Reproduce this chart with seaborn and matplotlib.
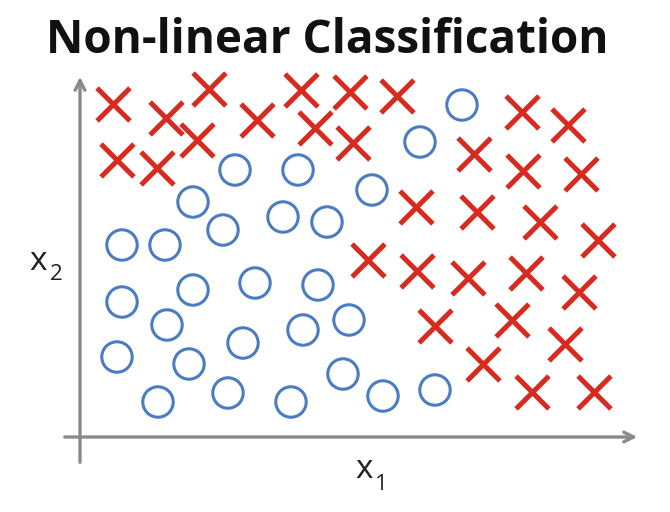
import matplotlib
matplotlib.use("Agg")
import matplotlib.pyplot as plt
import seaborn as sns

# positive class (red crosses), x1 / x2 values
cross_x1 = [0.66, 1.72, 2.58, 2.34, 3.54, 4.42, 4.70, 5.40, 6.34, 5.46, 0.74, 1.54,
            8.84, 9.76, 7.88, 8.86, 10.02, 6.72, 7.94, 9.20, 10.36, 5.76, 6.74, 7.76,
            8.92, 9.98, 7.10, 8.64, 9.70, 8.06, 9.04, 10.28]
cross_x2 = [6.66, 6.38, 6.96, 5.94, 6.34, 6.94, 6.18, 6.90, 6.82, 5.88, 5.54, 5.38,
            6.50, 6.24, 5.66, 5.32, 5.26, 4.60, 4.50, 4.30, 3.94, 3.54, 3.32, 3.18,
            3.28, 2.90, 2.22, 2.34, 1.86, 1.46, 0.90, 0.90]

# negative class (blue circles)
circle_x1 = [7.64, 6.80, 5.84, 3.10, 4.36, 2.26, 2.86, 4.06, 4.94, 0.84, 1.70, 0.84,
             2.26, 3.50, 4.76, 1.74, 5.38, 4.46, 3.26, 0.74, 2.18, 5.26, 1.56, 2.96,
             4.22, 6.06, 7.10]
circle_x2 = [6.64, 5.90, 4.94, 5.34, 5.34, 4.70, 4.14, 4.40, 4.30, 3.84, 3.84, 2.70,
             2.94, 3.08, 3.04, 2.24, 2.34, 2.14, 1.88, 1.60, 1.46, 1.26, 0.70, 0.88,
             0.70, 0.82, 0.94]

red = "#d92a1f"
blue = "#4a7cc2"
gray = "#8a8a8a"

sns.set_style("white")
plt.rcParams["font.family"] = ["Open Sans", "DejaVu Sans"]

fig = plt.figure(figsize=(6.7, 5.12), dpi=100)
ax = fig.add_axes([0, 0, 1, 1])
ax.set_xlim(-1.6, 11.8)
ax.set_ylim(-1.5, 8.74)
ax.axis("off")

# axes with arrows
ax.annotate("", xy=(11.2, 0), xytext=(-0.36, 0),
            arrowprops=dict(arrowstyle="->,head_length=0.7,head_width=0.35",
                            color=gray, lw=2.4))
ax.annotate("", xy=(0, 7.26), xytext=(0, -0.56),
            arrowprops=dict(arrowstyle="->,head_length=0.7,head_width=0.35",
                            color=gray, lw=2.4))

sns.scatterplot(x=circle_x1, y=circle_x2, ax=ax, marker="o", s=480,
                facecolors="none", edgecolor=blue, linewidth=2.2, zorder=3)
sns.scatterplot(x=cross_x1, y=cross_x2, ax=ax, marker="x", s=560,
                color=red, linewidth=3.6, zorder=3)

fig.text(0.488, 1 - 53 / 512, "Non-linear Classification", ha="center", va="baseline",
         fontsize=33, fontweight="bold", color="#111111")
fig.text(364 / 670, 1 - 469 / 512, "x", ha="center", va="center", fontsize=24, color="#222222")
fig.text(381 / 670, 1 - 485 / 512, "1", ha="center", va="center", fontsize=16, color="#222222")
fig.text(38 / 670, 1 - 261 / 512, "x", ha="center", va="center", fontsize=24, color="#222222")
fig.text(56 / 670, 1 - 274 / 512, "2", ha="center", va="center", fontsize=16, color="#222222")

fig.savefig("out.png", dpi=100)
